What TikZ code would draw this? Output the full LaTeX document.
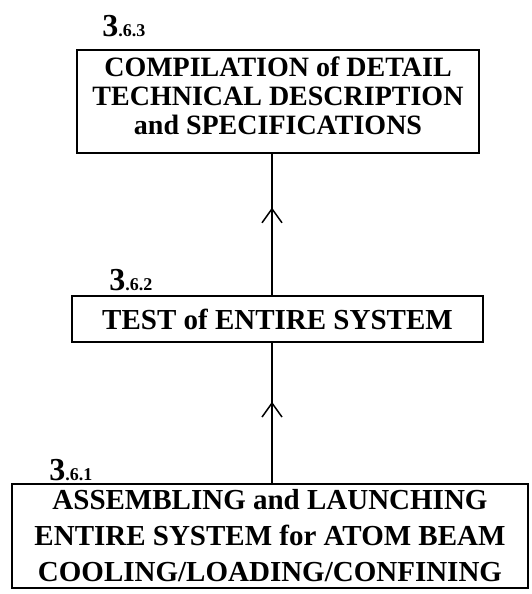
\documentclass[tikz,border=0pt]{standalone}
\usepackage{fontspec}
\setmainfont{Liberation Serif}
\usetikzlibrary{positioning,arrows.meta,decorations.markings}

\newcommand{\stagenum}[1]{{\fontsize{32}{32}\selectfont 3}{\fontsize{18}{18}\selectfont .6.#1}}

\tikzset{
    stage/.style={draw, line width=1.5pt, align=center, inner sep=0pt, font=\bfseries},
    num/.style={anchor=base west, inner sep=0pt, font=\bfseries},
    flow/.style={line width=1.5pt, postaction={decorate},
        decoration={markings, mark=at position #1 with {\arrow{Straight Barb[length=14pt,width=20pt,line width=1.5pt]}}}},
}

\begin{document}
\begin{tikzpicture}[x=1pt, y=-1pt]
        \useasboundingbox (0,0) rectangle (531,594);
        \coordinate (X) at (272,0);

        %Boxes
        \node[stage, minimum width=402pt, minimum height=103pt, text depth=11pt, font=\bfseries\fontsize{28}{29}\selectfont] (C) at (278,101.5)
            {COMPILATION of DETAIL\\TECHNICAL DESCRIPTION\\and SPECIFICATIONS};
        \node[stage, minimum width=411pt, minimum height=46pt, font=\bfseries\fontsize{29}{29}\selectfont] (B) at (277.5,319)
            {TEST of ENTIRE SYSTEM};
        \node[stage, minimum width=516pt, minimum height=104pt, font=\bfseries\fontsize{29}{36}\selectfont] (A) at (270,536)
            {ASSEMBLING and LAUNCHING\\ENTIRE SYSTEM for ATOM BEAM\\COOLING/LOADING/CONFINING};

        %Numbers
        \node[num] (nC) at ([xshift=26pt, yshift=13pt]C.north west) {\stagenum{3}};
        \node[num] (nB) at ([xshift=38pt, yshift=5pt]B.north west) {\stagenum{2}};
        \node[num] (nA) at ([xshift=38pt, yshift=3pt]A.north west) {\stagenum{1}};

        %Arrows
        \draw[flow=0.58] (A.north -| X) -- (B.south -| X);
        \draw[flow=0.62] (B.north -| X) -- (C.south -| X);
    \end{tikzpicture}
\end{document}
